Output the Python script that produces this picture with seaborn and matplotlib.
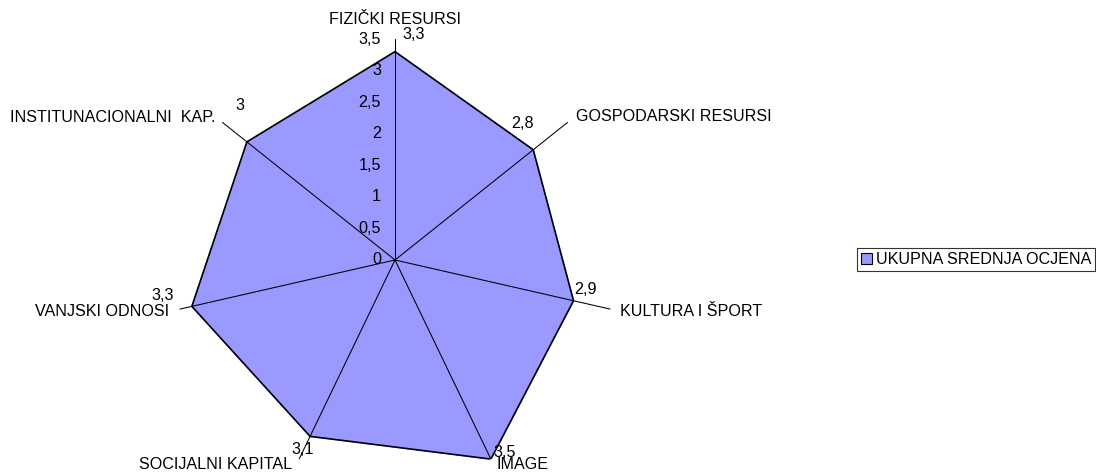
import numpy as np
import matplotlib
matplotlib.use("Agg")
import matplotlib.pyplot as plt
from matplotlib.patches import Patch
import seaborn as sns

# --- DATA ---
categories = ["FIZIČKI RESURSI", "GOSPODARSKI RESURSI", "KULTURA I ŠPORT", "IMAGE",
              "SOCIJALNI KAPITAL", "VANJSKI ODNOSI", "INSTITUNACIONALNI  KAP."]
values = [3.3, 2.8, 2.9, 3.5, 3.1, 3.3, 3.0]
value_labels = ["3,3", "2,8", "2,9", "3,5", "3,1", "3,3", "3"]
r_ticks = [0, 0.5, 1, 1.5, 2, 2.5, 3, 3.5]
r_tick_labels = ["0", "0,5", "1", "1,5", "2", "2,5", "3", "3,5"]
series_name = "UKUPNA SREDNJA OCJENA"

# --- STYLE ---
FILL = "#9999FF"
R_MAX = 3.5
FS = 11.6

sns.set_style("white")
plt.rcParams["font.family"] = ["Liberation Sans", "DejaVu Sans"]
plt.rcParams["text.color"] = "black"

W, H = 1096, 473
fig = plt.figure(figsize=(W / 100, H / 100), dpi=100)

# polar axes placed so the centre / radius match the reference
cx, cy, rad = 395, 260, 221
ax = fig.add_axes([(cx - rad) / W, (H - cy - rad) / H, 2 * rad / W, 2 * rad / H],
                  projection="polar")
ax.set_theta_zero_location("N")
ax.set_theta_direction(-1)
ax.set_ylim(0, R_MAX)
ax.grid(False)
ax.spines["polar"].set_visible(False)
ax.set_xticks([])
ax.set_yticks([])
ax.patch.set_alpha(0)

n = len(categories)
theta = np.arange(n) * 2 * np.pi / n
theta_c = np.append(theta, 2 * np.pi)
vals_c = np.append(values, values[0])

ax.fill(theta_c, vals_c, color=FILL, zorder=1)

# spokes
for t in theta:
    ax.plot([t, t], [0, R_MAX], color="black", lw=0.75, zorder=2)

sns.lineplot(x=theta_c, y=vals_c, sort=False, ax=ax, color="black", lw=1.2, zorder=3)
ax.set_xlabel("")
ax.set_ylabel("")

# radial tick labels along top spoke
for r, lab in zip(r_ticks, r_tick_labels):
    ax.annotate(lab, xy=(0, r), xytext=(-14, 0), textcoords="offset pixels",
                ha="right", va="center", fontsize=FS, color="black",
                annotation_clip=False)

# category labels (offsets from spoke ends)
cat_off = [(0, 19, "center"), (8, 6, "left"), (10, -2, "left"), (6, -5, "left"),
           (-7, -5, "right"), (-10, -2, "right"), (-7, 5, "right")]
for t, lab, (dx, dy, ha) in zip(theta, categories, cat_off):
    ax.annotate(lab, xy=(t, R_MAX), xytext=(dx, dy), textcoords="offset pixels",
                ha=ha, va="center", fontsize=FS, color="black",
                annotation_clip=False)

# value labels (offsets from vertices)
val_off = [(19, 17), (-11, 26), (12, 11), (14, 7), (-7, -13), (-29, 11), (-7, 36)]
for t, v, lab, (dx, dy) in zip(theta, values, value_labels, val_off):
    ax.annotate(lab, xy=(t, v), xytext=(dx, dy), textcoords="offset pixels",
                ha="center", va="center", fontsize=FS, color="black",
                annotation_clip=False, zorder=4)

handle = Patch(facecolor=FILL, edgecolor="black", lw=0.8)
leg = fig.legend([handle], [series_name], loc="upper left",
                 bbox_to_anchor=(857 / W, (H - 248) / H), fontsize=FS,
                 frameon=True, fancybox=False, shadow=False,
                 handlelength=0.7, handleheight=0.7, handletextpad=0.2,
                 borderpad=0.25, borderaxespad=0)
leg.get_frame().set_edgecolor("black")
leg.get_frame().set_linewidth(0.8)
for txt in leg.get_texts():
    txt.set_color("black")

fig.savefig("out.png", dpi=100)
